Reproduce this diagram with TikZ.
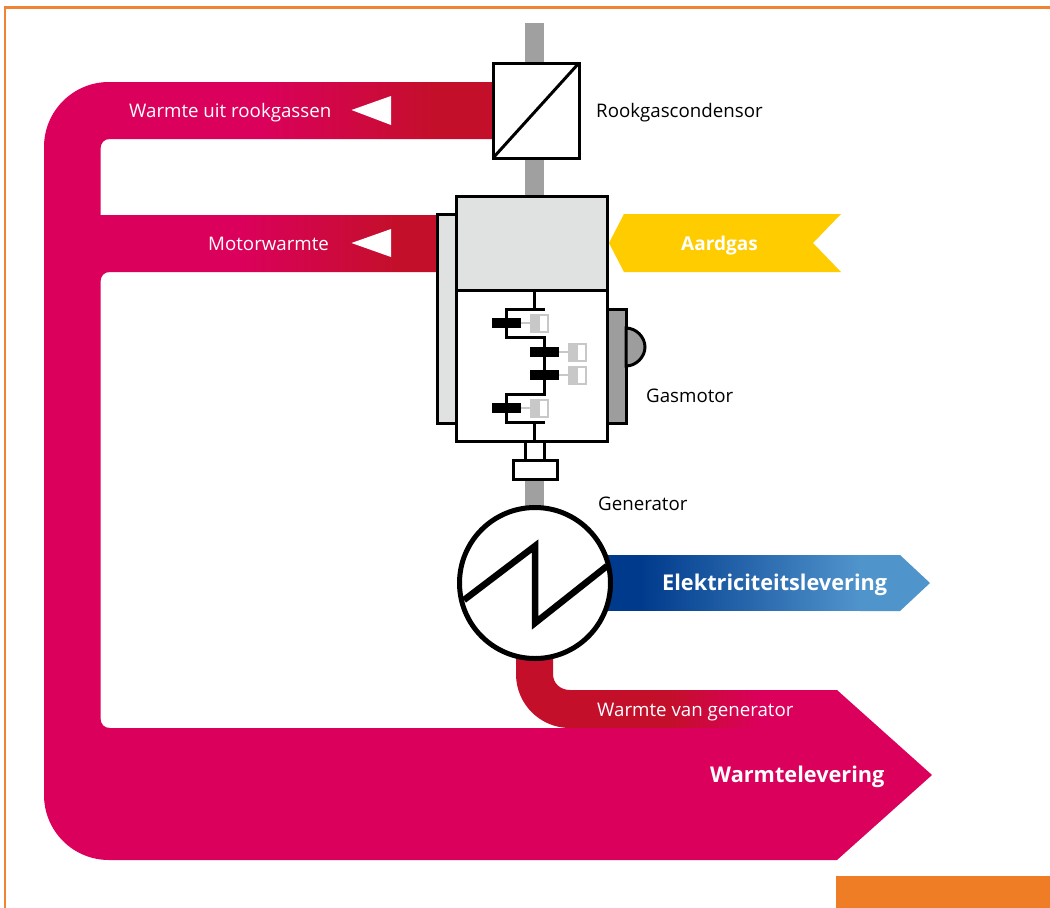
\documentclass[tikz,border=0pt]{standalone}
\usepackage{fontspec}
\setmainfont{Open Sans}
\definecolor{heat}{HTML}{DB005C}
\definecolor{hot}{HTML}{C40F2B}
\definecolor{shaftgrey}{HTML}{A0A0A0}
\definecolor{plategrey}{HTML}{E0E2E1}
\definecolor{sidegrey}{HTML}{9D9D9D}
\definecolor{pistongrey}{HTML}{C8C8C8}
\definecolor{gasyellow}{HTML}{FFCC00}
\definecolor{elecdark}{HTML}{003A8C}
\definecolor{eleclight}{HTML}{5094CC}
\definecolor{frameorange}{HTML}{EF8534}
\definecolor{boxorange}{HTML}{EF7D26}
\tikzset{
  x=1pt,y=-1pt,
  part/.style={draw=black,line width=3pt,line join=miter},
  crank/.style={draw=black,line width=3pt},
  piston/.style={fill=black},
  cylsolid/.style={fill=pistongrey},
  cylopen/.style={fill=white,draw=pistongrey,line width=2pt},
  rod/.style={draw=pistongrey,line width=2pt},
  lbl/.style={font=\fontsize{18.7}{22}\selectfont,inner sep=0pt,anchor=base west},
  lblmid/.style={font=\fontsize{19}{22}\selectfont\bfseries,inner sep=0pt,anchor=base west,text=white},
  lblbold/.style={font=\fontsize{21.7}{26}\selectfont\bfseries,inner sep=0pt,anchor=base west,text=white},
}
\begin{document}
\begin{tikzpicture}
\useasboundingbox (0,0) rectangle (1050,908);
\fill[white] (0,0) rectangle (1050,908);
% frame
\draw[frameorange,line width=2.5pt] (5,908) -- (5,7.5) -- (1050,7.5);
\fill[boxorange] (836,876) rectangle (1050,908);
% shafts
\fill[shaftgrey] (525,23) rectangle (544,64);
\fill[shaftgrey] (525,157) rectangle (544,197);
\fill[shaftgrey] (525,478) rectangle (544,512);
% main heat flow
\fill[heat] (44,147) .. controls (44,111) and (73,82) .. (109,82)
  -- (495,82) -- (495,139) -- (110,139)
  .. controls (104,139) and (100.5,143) .. (100.5,149)
  -- (100.5,215) -- (440,215) -- (440,272) -- (110,272)
  .. controls (104,272) and (100.5,276) .. (100.5,282)
  -- (100.5,718) .. controls (100.5,724) and (104,728) .. (110,728)
  -- (700,728) -- (700,690) -- (837,690) -- (932,775) -- (837,860)
  -- (109,860) .. controls (73,860) and (44,831) .. (44,795) -- cycle;
% gradient ends of the bands
\shade[left color=heat,right color=hot] (260,82.4) rectangle (433,138.6);
\fill[hot] (432.5,82) rectangle (495,139);
\shade[left color=heat,right color=hot] (240,215.4) rectangle (395,271.6);
\fill[hot] (394.5,215) rectangle (440,272);
% generator heat
\fill[hot] (516,650) -- (516,674) .. controls (516,704) and (540,728) .. (570,728)
  -- (670.5,728) -- (670.5,690) -- (570,690)
  .. controls (560,690) and (553,683) .. (553,674) -- (553,650) -- cycle;
\shade[left color=hot,right color=heat] (670,690.4) rectangle (760,727.6);
% arrows
\fill[white] (351.5,110) -- (391,96) -- (391,125) -- cycle;
\fill[white] (351.5,243) -- (391,229) -- (391,257) -- cycle;
\fill[gasyellow] (609,243) -- (624,214) -- (841,214) -- (813,243) -- (841,272) -- (624,272) -- cycle;
\fill[elecdark] (605,555) rectangle (640.5,611);
\shade[left color=elecdark,right color=eleclight] (640,555.4) rectangle (860,610.6);
\fill[eleclight] (859.5,555) -- (900,555) -- (930,583) -- (900,611) -- (859.5,611) -- cycle;
% condenser
\draw[part,fill=white] (493,63) rectangle (579,158);
\draw[part] (493,158) -- (579,63);
% engine
\draw[part,fill=plategrey] (437,214) rectangle (456,423);
\draw[part,fill=sidegrey] (607,309) rectangle (626,423);
\draw[part,fill=sidegrey] (626,328) .. controls (636,328) and (645,337) .. (645,347) .. controls (645,357) and (636,366) .. (626,366) -- cycle;
\draw[part,fill=plategrey] (456,196) rectangle (607,290);
\draw[part,fill=white] (456,290) rectangle (607,441);
% crank
\draw[crank] (534.5,290) -- (534.5,309);
\draw[crank] (545,309) -- (506,309) -- (506,337) -- (544,337) -- (544,394) -- (506,394) -- (506,422) -- (545,422);
\draw[crank] (534.5,422) -- (534.5,441);
% pistons
\foreach \px/\py in {492/323,530/352,530/375,492/408}{
  \fill[piston] (\px,\py-5) rectangle (\px+29,\py+5);
  \draw[rod] (\px+29,\py) -- (\px+38,\py);
  \fill[cylsolid] (\px+38,\py-9.5) rectangle (\px+47,\py+9.5);
  \draw[cylopen] (\px+47,\py-8.5) rectangle (\px+56,\py+8.5);
}
% coupling
\draw[crank] (525.5,441) -- (525.5,460);
\draw[crank] (544,441) -- (544,460);
\draw[part,fill=white] (513,460) rectangle (557,479);
% generator
\draw[draw=black,line width=5pt,fill=white] (535,583) circle [radius=75.5];
\draw[line width=6.5pt,miter limit=10,line join=miter] (464,600) -- (535,546) -- (535,623) -- (607,566);
% labels
\node[lbl,text=white] (rook) at (129,117) {Warmte uit rookgassen};
\node[lbl,text=white] (motor) at (208,250) {Motorwarmte};
\node[lbl,text=black] (cond) at (596,117) {Rookgascondensor};
\node[lbl,text=black] (gasm) at (646,402) {Gasmotor};
\node[lbl,text=black] (gen) at (598,510) {Generator};
\node[lbl,text=white] (wgen) at (597,716) {Warmte van generator};
\node[lblmid] (gas) at (681,250) {Aardgas};
\node[lblbold] (elec) at (662,590) {Elektriciteitslevering};
\node[lblbold] (wlev) at (710,782) {Warmtelevering};
\end{tikzpicture}
\end{document}
